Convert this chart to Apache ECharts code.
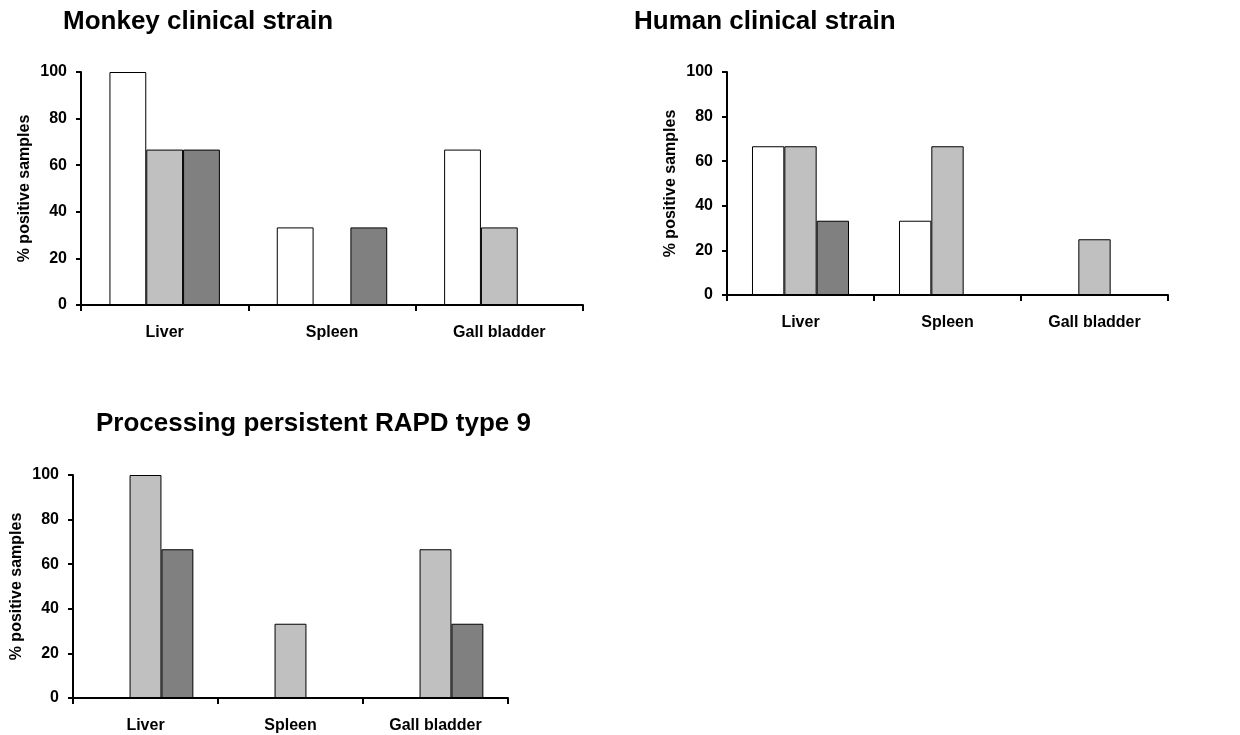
<!DOCTYPE html>
<html>
<head>
<meta charset="utf-8">
<script src="https://cdn.jsdelivr.net/npm/echarts@6/dist/echarts.min.js"></script>
<style>
  html, body { margin: 0; padding: 0; background: #fff; }
  #chart { width: 1240px; height: 735px; }
</style>
</head>
<body>
<div id="chart"></div>
<script>
// Organs sampled in each experiment
const categories = ['Liver', 'Spleen', 'Gall bladder'];

// % positive samples, three sampling series per panel (white, light grey, dark grey)
const monkeyWhite = [100, 33.3, 66.7];
const monkeyLight = [66.7, 0, 33.3];
const monkeyDark  = [66.7, 33.3, 0];

const humanWhite = [66.7, 33.3, 0];
const humanLight = [66.7, 66.7, 25];
const humanDark  = [33.3, 0, 0];

const rapdWhite = [0, 0, 0];
const rapdLight = [100, 33.3, 66.7];
const rapdDark  = [66.7, 0, 33.3];

const panelTitles = ['Monkey clinical strain', 'Human clinical strain', 'Processing persistent RAPD type 9'];
const yTicks = { min: 0, max: 100, interval: 20 };
const yName = '% positive samples';

const FONT = '"Liberation Sans", Arial, sans-serif';
const fills = ['#ffffff', '#c0c0c0', '#808080'];

const grids = [
  { left: 81,  top: 72,  width: 502, height: 233 },
  { left: 727, top: 72,  width: 441, height: 223 },
  { left: 73,  top: 475, width: 435, height: 223 }
];

const titlePos = [
  { left: 63,  top: 9 },
  { left: 634, top: 9 },
  { left: 96,  top: 411 }
];

const panels = [
  [monkeyWhite, monkeyLight, monkeyDark],
  [humanWhite, humanLight, humanDark],
  [rapdWhite, rapdLight, rapdDark]
];

const axisLineStyle = { color: '#000', width: 2 };
const labelStyle = { color: '#000', fontWeight: 'bold', fontSize: 16, fontFamily: FONT };

const option = {
  backgroundColor: '#fff',
  animation: false,
  title: panelTitles.map((t, i) => ({
    text: t,
    left: titlePos[i].left,
    top: titlePos[i].top,
    padding: 0,
    textStyle: { color: '#000', fontWeight: 'bold', fontSize: 26, fontFamily: FONT }
  })),
  grid: grids.map(g => Object.assign({ containLabel: false }, g)),
  xAxis: grids.map((g, i) => ({
    type: 'category',
    gridIndex: i,
    data: categories,
    axisLine: { show: true, lineStyle: axisLineStyle },
    axisTick: { show: true, length: 6, inside: false, alignWithLabel: false, lineStyle: axisLineStyle },
    axisLabel: Object.assign({ margin: 20, interval: 0 }, labelStyle),
    splitLine: { show: false }
  })),
  yAxis: grids.map((g, i) => ({
    type: 'value',
    gridIndex: i,
    min: yTicks.min,
    max: yTicks.max,
    interval: yTicks.interval,
    name: yName,
    nameLocation: 'middle',
    nameGap: 48,
    nameTextStyle: { color: '#000', fontWeight: 'bold', fontSize: 16, fontFamily: FONT },
    axisLine: { show: true, lineStyle: axisLineStyle },
    axisTick: { show: true, length: 5, inside: false, lineStyle: axisLineStyle },
    axisLabel: Object.assign({ margin: 14 }, labelStyle),
    splitLine: { show: false }
  })),
  series: []
};

panels.forEach((seriesSet, p) => {
  seriesSet.forEach((values, s) => {
    option.series.push({
      type: 'bar',
      xAxisIndex: p,
      yAxisIndex: p,
      data: values,
      barWidth: '22%',
      barGap: '0%',
      itemStyle: { color: fills[s], borderColor: '#000', borderWidth: 1 },
      emphasis: { disabled: true }
    });
  });
});

const chart = echarts.init(document.getElementById('chart'), null, { renderer: 'canvas' });
chart.setOption(option);
</script>
</body>
</html>
